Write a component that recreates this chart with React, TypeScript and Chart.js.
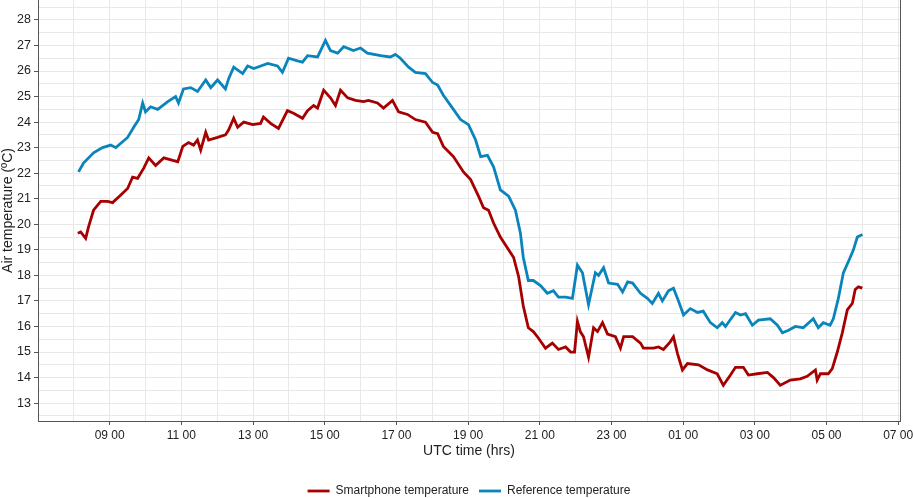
import React, { useEffect, useRef } from "react";
import { Chart, registerables } from "chart.js";

Chart.register(...registerables);

// Time in hours since midnight of the first day (values > 24 are the next day)
const phoneTimes = [
  8.11, 8.19, 8.33, 8.41, 8.55, 8.75, 8.94, 9.08, 9.31, 9.5, 9.64, 9.78, 9.95, 10.09, 10.28, 10.51, 10.76, 10.9,
  11.04, 11.2, 11.34, 11.45, 11.54, 11.68, 11.76, 12.01, 12.23, 12.32, 12.46, 12.57, 12.74, 12.99, 13.21, 13.29,
  13.49, 13.71, 13.96, 14.13, 14.38, 14.52, 14.69, 14.8, 14.97, 15.16, 15.3, 15.44, 15.64, 15.86, 16.08, 16.22,
  16.47, 16.64, 16.89, 17.06, 17.31, 17.53, 17.81, 18.01, 18.15, 18.31, 18.59, 18.87, 19.07, 19.29, 19.43, 19.57,
  19.71, 19.9, 20.13, 20.27, 20.41, 20.54, 20.68, 20.82, 20.96, 21.16, 21.35, 21.52, 21.72, 21.86, 21.97, 22.05,
  22.13, 22.22, 22.36, 22.5, 22.61, 22.75, 22.89, 23.11, 23.25, 23.34, 23.59, 23.81, 23.89, 24.17, 24.31, 24.45,
  24.64, 24.73, 24.84, 24.98, 25.12, 25.43, 25.68, 25.95, 26.12, 26.32, 26.46, 26.68, 26.82, 27.07, 27.35, 27.52,
  27.71, 27.99, 28.27, 28.46, 28.69, 28.74, 28.83, 29.05, 29.16, 29.3, 29.44, 29.58, 29.72, 29.8, 29.89, 30.0,
];
const phoneTemps = [
  19.65, 19.7, 19.45, 19.9, 20.55, 20.9, 20.9, 20.85, 21.15, 21.4, 21.85, 21.8, 22.2, 22.6, 22.3, 22.6, 22.5, 22.45,
  23.05, 23.2, 23.1, 23.3, 22.9, 23.6, 23.3, 23.4, 23.5, 23.7, 24.15, 23.8, 24.0, 23.9, 23.95, 24.2,
  23.95, 23.75, 24.45, 24.35, 24.15, 24.45, 24.65, 24.55, 25.25, 24.95, 24.65, 25.25, 24.95, 24.85, 24.8, 24.85,
  24.75, 24.55, 24.85, 24.4, 24.3, 24.1, 24.0, 23.6, 23.55, 23.05, 22.65, 22.05, 21.75, 21.1, 20.65, 20.55,
  20.05, 19.5, 19.0, 18.7, 17.95, 16.8, 15.95, 15.8, 15.55, 15.15, 15.35, 15.1, 15.2, 15.0, 15.0, 16.2,
  15.8, 15.6, 14.8, 15.95, 15.8, 16.15, 15.7, 15.6, 15.15, 15.6, 15.6, 15.35, 15.15, 15.15, 15.2, 15.1,
  15.4, 15.6, 14.95, 14.3, 14.55, 14.5, 14.3, 14.15, 13.7, 14.1, 14.4, 14.4, 14.1, 14.15, 14.2, 14.0,
  13.7, 13.9, 13.95, 14.05, 14.3, 13.9, 14.15, 14.15, 14.35, 15.0, 15.75, 16.65, 16.9, 17.45, 17.55, 17.5,
];

const refTimes = [
  8.13, 8.27, 8.55, 8.8, 9.03, 9.17, 9.5, 9.67, 9.81, 9.92, 10.0, 10.14, 10.34, 10.62, 10.84, 10.92, 11.06, 11.26,
  11.45, 11.68, 11.82, 12.01, 12.23, 12.32, 12.46, 12.71, 12.85, 13.02, 13.41, 13.68, 13.82, 13.99, 14.24, 14.38,
  14.52, 14.8, 15.02, 15.16, 15.36, 15.53, 15.8, 16.0, 16.19, 16.56, 16.83, 16.97, 17.11, 17.34, 17.53, 17.81,
  18.01, 18.15, 18.31, 18.59, 18.79, 19.01, 19.21, 19.35, 19.54, 19.71, 19.9, 20.13, 20.32, 20.46, 20.54, 20.68,
  20.82, 21.02, 21.21, 21.38, 21.52, 21.72, 21.91, 22.05, 22.19, 22.36, 22.55, 22.64, 22.78, 22.92, 23.17, 23.31,
  23.45, 23.59, 23.81, 24.0, 24.14, 24.31, 24.42, 24.59, 24.73, 24.87, 25.01, 25.2, 25.4, 25.56, 25.76, 25.95,
  26.09, 26.18, 26.46, 26.6, 26.74, 26.93, 27.1, 27.43, 27.63, 27.77, 27.94, 28.13, 28.35, 28.63, 28.77, 28.91,
  29.1, 29.19, 29.33, 29.47, 29.66, 29.75, 29.86, 30.0,
];
const refTemps = [
  22.05, 22.4, 22.8, 23.0, 23.1, 23.0, 23.4, 23.8, 24.1, 24.75, 24.4, 24.6, 24.5, 24.8, 25.0, 24.75, 25.3, 25.35,
  25.2, 25.65, 25.35, 25.65, 25.3, 25.7, 26.15, 25.9, 26.2, 26.1, 26.3, 26.2, 25.95, 26.5, 26.4, 26.35,
  26.6, 26.55, 27.2, 26.8, 26.7, 26.95, 26.8, 26.9, 26.7, 26.6, 26.55, 26.65, 26.5, 26.15, 25.95, 25.9,
  25.55, 25.45, 25.05, 24.5, 24.1, 23.9, 23.3, 22.65, 22.7, 22.25, 21.35, 21.1, 20.55, 19.65, 18.7, 17.8,
  17.8, 17.6, 17.3, 17.4, 17.15, 17.15, 17.1, 18.4, 18.1, 16.85, 18.1, 18.0, 18.3, 17.7, 17.65, 17.35,
  17.75, 17.7, 17.3, 17.1, 16.9, 17.3, 17.0, 17.4, 17.5, 17.0, 16.45, 16.7, 16.55, 16.6, 16.15, 15.95,
  16.15, 16.0, 16.55, 16.45, 16.5, 16.05, 16.25, 16.3, 16.05, 15.75, 15.85, 16.0, 15.95, 16.3, 15.95, 16.15,
  16.05, 16.3, 17.1, 18.1, 18.7, 19.0, 19.5, 19.6,
];

const seriesNames = ["Smartphone temperature", "Reference temperature"];
const xTickLabelHours = [9, 11, 13, 15, 17, 19, 21, 23, 25, 27, 29, 31];

const hourLabel = (h: number) => String(((h % 24) + 24) % 24).padStart(2, "0") + " 00";
const FONT = "Liberation Sans, Arial, sans-serif";

export default function App() {
  const ref = useRef<HTMLCanvasElement | null>(null);

  useEffect(() => {
    document.body.style.margin = "0";
    if (!ref.current) return;

    const frame = {
      id: "frame",
      afterDraw(chart: any) {
        const { ctx, chartArea } = chart;
        ctx.save();
        ctx.strokeStyle = "#555";
        ctx.lineWidth = 1;
        ctx.beginPath();
        ctx.moveTo(chartArea.right + 0.5, chartArea.top);
        ctx.lineTo(chartArea.right + 0.5, chartArea.bottom);
        ctx.stroke();
        ctx.restore();
      },
    };

    const isInt = (v: number) => Math.abs(v - Math.round(v)) < 1e-6;

    const chart = new Chart(ref.current, {
      type: "line",
      data: {
        datasets: [
          {
            label: seriesNames[0],
            data: phoneTimes.map((t, i) => ({ x: t, y: phoneTemps[i] })),
            borderColor: "#a60000",
            backgroundColor: "#a60000",
            borderWidth: 2.8,
            pointRadius: 0,
            tension: 0,
          },
          {
            label: seriesNames[1],
            data: refTimes.map((t, i) => ({ x: t, y: refTemps[i] })),
            borderColor: "#0a85bb",
            backgroundColor: "#0a85bb",
            borderWidth: 2.8,
            pointRadius: 0,
            tension: 0,
          },
        ],
      },
      options: {
        responsive: false,
        animation: false,
        devicePixelRatio: 1,
        layout: { padding: { top: 0, right: 13, bottom: -9, left: 0 } },
        plugins: {
          tooltip: { enabled: false },
          legend: {
            position: "bottom",
            fullSize: false,
            labels: {
              usePointStyle: true,
              pointStyle: "line",
              pointStyleWidth: 22,
              padding: 10,
              color: "#222",
              font: { family: FONT, size: 12 },
            },
          },
        },
        scales: {
          x: {
            type: "linear",
            min: 7,
            max: 31.05,
            afterFit: (s: any) => {
              s.height = 54;
              s.paddingLeft = 0;
              s.paddingRight = 0;
            },
            border: { color: "#555", width: 1 },
            grid: {
              color: "#e8e8e8",
              tickLength: 4,
              tickColor: (c: any) => (xTickLabelHours.includes(c.tick?.value) ? "#555" : "rgba(0,0,0,0)"),
            },
            ticks: {
              stepSize: 1,
              autoSkip: false,
              maxRotation: 0,
              includeBounds: false,
              padding: 3,
              color: "#222",
              font: { family: FONT, size: 12 },
              callback: (v: any) => (xTickLabelHours.includes(Number(v)) ? hourLabel(Number(v)) : ""),
            },
            title: {
              display: true,
              text: "UTC time (hrs)",
              color: "#222",
              padding: { top: 0, bottom: 15.6 },
              font: { family: FONT, size: 14 },
            },
          },
          y: {
            type: "linear",
            min: 12.3,
            max: 28.78,
            afterFit: (s: any) => {
              s.width = 38;
              s.paddingTop = 0;
              s.paddingBottom = 0;
            },
            border: { color: "#555", width: 1 },
            grid: {
              color: "#e8e8e8",
              tickLength: 4,
              tickColor: (c: any) => (isInt(c.tick?.value ?? 0.5) ? "#555" : "rgba(0,0,0,0)"),
            },
            ticks: {
              stepSize: 0.5,
              includeBounds: false,
              autoSkip: false,
              padding: 3,
              color: "#222",
              font: { family: FONT, size: 12.5 },
              callback: (v: any) => (isInt(Number(v)) ? String(Math.round(Number(v))) : ""),
            },
            title: {
              display: true,
              text: "Air temperature (ºC)",
              color: "#222",
              padding: { top: 0, bottom: 0 },
              font: { family: FONT, size: 14 },
            },
          },
        },
      },
      plugins: [frame],
    } as any);

    return () => chart.destroy();
  }, []);

  return <canvas ref={ref} width={913} height={498} style={{ display: "block" }} />;
}
